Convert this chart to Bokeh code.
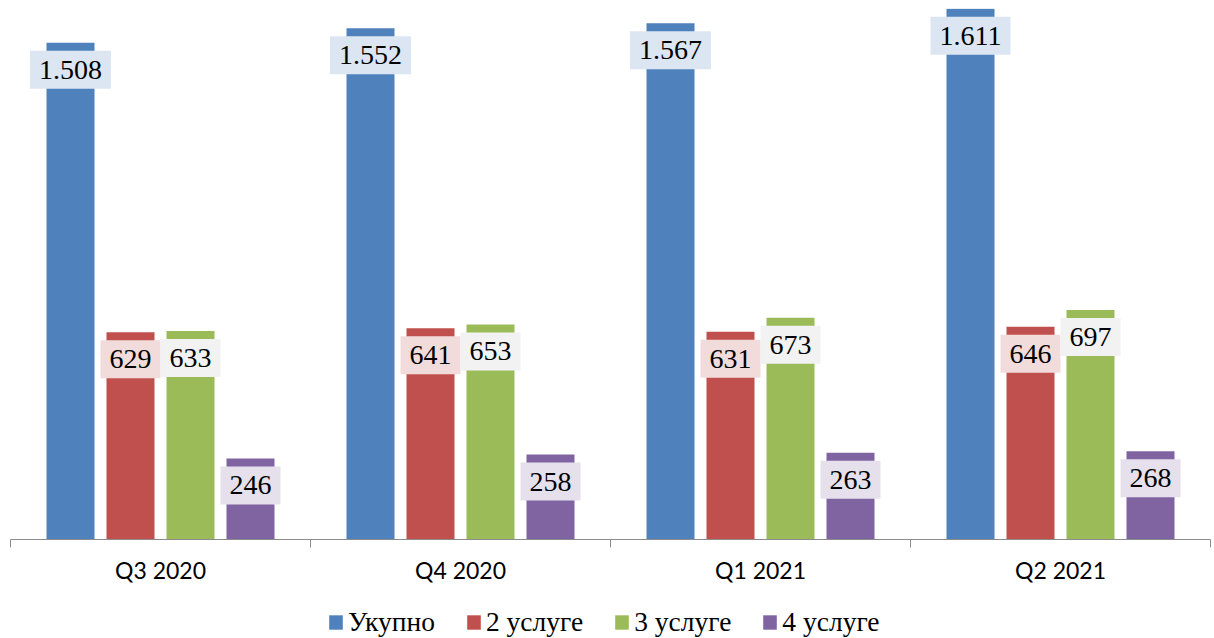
import numpy as np
from bokeh.plotting import figure
from bokeh.layouts import column
from bokeh.models import (ColumnDataSource, Range1d, FixedTicker, Legend, LegendItem)
from bokeh.core.properties import value
from bokeh.embed import file_html
from bokeh.resources import INLINE

quarters = ["Q3 2020", "Q4 2020", "Q1 2021", "Q2 2021"]
series_names = ["Укупно", "2 услуге", "3 услуге", "4 услуге"]
ukupno = [1508, 1552, 1567, 1611]
usluge2 = [629, 641, 631, 646]
usluge3 = [633, 653, 673, 697]
usluge4 = [246, 258, 263, 268]
series_values = [ukupno, usluge2, usluge3, usluge4]

bar_colors = ["#4f81bd", "#c0504d", "#9bbb59", "#8064a2"]
box_colors = ["#dce6f2", "#f2dcdb", "#f2f2f2", "#e6e0ec"]
offsets = [-0.3, -0.1, 0.1, 0.3]

p = figure(width=1212, height=600, output_backend="svg", toolbar_location=None,
           x_range=Range1d(0, len(quarters)), y_range=Range1d(0, 1612),
           min_border_left=10, min_border_right=2, min_border_top=8, min_border_bottom=61)
p.outline_line_color = None
p.background_fill_color = "white"
p.border_fill_color = "white"
p.xgrid.visible = False
p.ygrid.visible = False
p.yaxis.visible = False

centers = np.arange(len(quarters)) + 0.5
p.xaxis.ticker = FixedTicker(ticks=list(centers), minor_ticks=list(range(len(quarters) + 1)))
p.xaxis.major_label_overrides = {float(c): q for c, q in zip(centers, quarters)}
p.xaxis.major_tick_line_color = None
p.xaxis.major_tick_out = 0
p.xaxis.major_tick_in = 0
p.xaxis.minor_tick_out = 8
p.xaxis.minor_tick_in = 0
p.xaxis.minor_tick_line_color = "#8c8c8c"
p.xaxis.axis_line_color = "#8c8c8c"
p.xaxis.axis_line_width = 1
p.xaxis.major_label_standoff = 8
p.xaxis.major_label_text_font = "Lato"
p.xaxis.major_label_text_font_size = "23px"
p.xaxis.major_label_text_color = "#000000"

for vals, off, bc, fc in zip(series_values, offsets, bar_colors, box_colors):
    src = ColumnDataSource(dict(
        x=centers + off,
        top=vals,
        label=[f"{v:,}".replace(",", ".") for v in vals],
    ))
    p.vbar(x="x", top="top", bottom=0, width=0.16, source=src,
           fill_color=bc, line_color=None)
    p.text(x="x", y="top", text="label", source=src,
           text_align="center", text_baseline="middle",
           text_font=value("Liberation Serif"), text_font_size="28px",
           text_color="#000000", y_offset=27,
           background_fill_color=fc,
           padding=dict(left=9, right=9, top=10, bottom=10))

# legend strip
pl = figure(width=1212, height=38, output_backend="svg", toolbar_location=None,
            x_range=Range1d(0, 1), y_range=Range1d(0, 1),
            min_border_left=0, min_border_right=0, min_border_top=0, min_border_bottom=0)
pl.outline_line_color = None
pl.axis.visible = False
pl.grid.visible = False
leg_renderers = []
for bc in bar_colors:
    leg_renderers.append(pl.vbar(x=[5], top=[0], width=0.1, fill_color=bc, line_color=None))
legend = Legend(items=[LegendItem(label=n, renderers=[r]) for n, r in zip(series_names, leg_renderers)],
                orientation="horizontal", location=(317, 0),
                glyph_width=17, glyph_height=18, label_standoff=4, spacing=30,
                label_height=28,
                padding=0, margin=0, border_line_color=None,
                background_fill_alpha=0,
                label_text_font="Liberation Serif", label_text_font_size="27.5px",
                label_text_color="#000000")
pl.add_layout(legend, "center")

open("out.html", "w").write(file_html(column(p, pl, spacing=0), INLINE))
